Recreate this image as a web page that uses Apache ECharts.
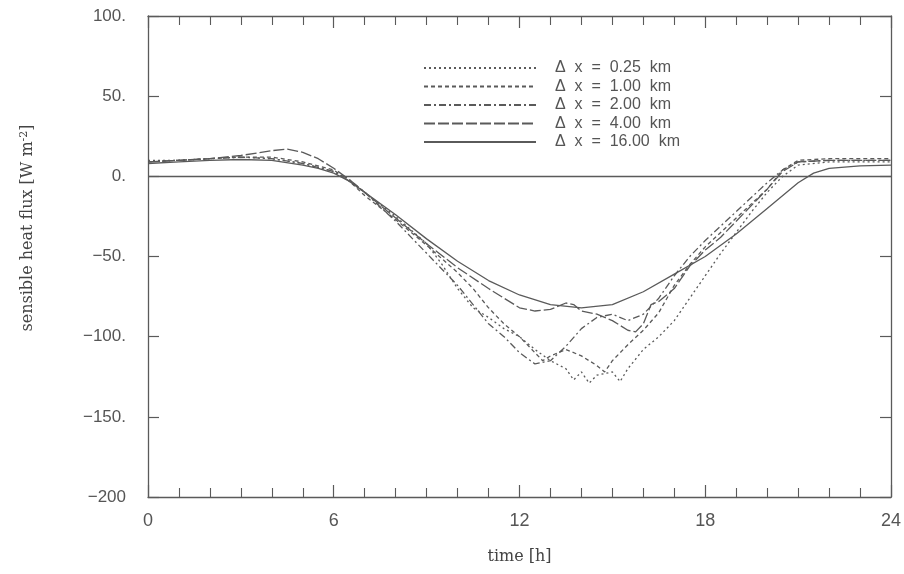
<!DOCTYPE html>
<html><head><meta charset="utf-8">
<script src="https://cdn.jsdelivr.net/npm/echarts@6/dist/echarts.min.js"></script>
<style>html,body{margin:0;padding:0;background:#fff}#c{width:904px;height:574px}</style>
</head><body><div id="c"></div>
<script>
// Data (time in hours, sensible heat flux in W m^-2)
const seriesNames = ['Δ  x  =  0.25  km','Δ  x  =  1.00  km','Δ  x  =  2.00  km','Δ  x  =  4.00  km','Δ  x  =  16.00  km'];
const xTicks = [0, 6, 12, 18, 24];
const yTicks = [100, 50, 0, -50, -100, -150, -200];

const dx025 = [[0,10],[1,10],[2,11],[3,12],[4,11],[5,8],[6,3],[6.5,-3],[7,-10],[8,-25],[9,-42],[9.5,-55],[10,-70],[10.5,-82],[11,-88],[11.5,-95],[12,-100],[12.5,-108],[13,-115],[13.5,-120],[13.75,-127],[14,-122],[14.25,-129],[14.5,-124],[15,-122],[15.25,-128],[15.5,-120],[16,-108],[16.5,-100],[17,-90],[17.5,-76],[18,-62],[18.5,-48],[19,-35],[19.5,-22],[20,-10],[20.5,0],[21,7],[22,9],[23,9],[24,9]];
const dx100 = [[0,9],[1,10],[2,11],[3,12],[4,12],[5,9],[6,4],[6.5,-3],[7,-12],[8,-27],[9,-43],[10,-60],[10.5,-70],[11,-82],[11.5,-92],[12,-100],[12.5,-110],[12.75,-115],[13,-112],[13.5,-108],[14,-112],[14.5,-118],[14.75,-122],[15,-115],[15.5,-105],[16,-96],[16.5,-85],[17,-68],[17.5,-55],[18,-44],[19,-26],[20,-8],[20.5,4],[21,10],[22,11],[23,11],[24,11]];
const dx200 = [[0,9],[1,10],[2,11],[3,12],[4,11],[5,8],[6,3],[6.5,-2],[7,-10],[8,-28],[9,-48],[10,-68],[10.5,-80],[11,-92],[11.5,-100],[12,-110],[12.5,-117],[13,-115],[13.5,-106],[14,-95],[14.5,-88],[15,-86],[15.5,-90],[16,-86],[16.5,-76],[17,-62],[17.5,-50],[18,-40],[19,-22],[20,-4],[20.5,4],[21,9],[22,10],[23,10],[24,10]];
const dx400 = [[0,9],[1,10],[2,11],[3,13],[4,16],[4.5,17],[5,15],[5.5,11],[6,5],[6.5,-2],[7,-10],[8,-26],[9,-42],[10,-57],[11,-70],[11.5,-76],[12,-82],[12.5,-84],[13,-83],[13.5,-79],[13.75,-80],[14,-84],[14.5,-86],[15,-90],[15.5,-96],[15.75,-97],[16,-92],[16.25,-80],[16.5,-78],[17,-70],[17.5,-56],[18,-46],[18.5,-38],[19,-28],[20,-8],[20.5,3],[21,9],[22,10],[23,10],[24,10]];
const dx1600 = [[0,8],[1,9],[2,10],[3,10.5],[4,10],[5,7],[5.5,5],[6,2],[6.5,-3],[7,-10],[8,-24],[9,-39],[10,-53],[11,-65],[12,-74],[13,-80],[14,-82],[15,-80],[16,-72],[17,-61],[18,-50],[19,-36],[20,-20],[21,-4],[21.5,2],[22,5],[23,6.5],[24,7]];
const zeroLine = 0;

const seriesData = [dx025, dx100, dx200, dx400, dx1600];
const dashTypes = [[2,3],[4,3],[7,3,2,3],[11,3],'solid'];
const lineColor = '#5a5a5a';
const textColor = '#555';

const chart = echarts.init(document.getElementById('c'));
const fmtY = v => (v === -200 ? '\u2212200' : (v < 0 ? '\u2212' + (-v) + '.' : v + '.'));
const axisLine = {show:true,onZero:false,lineStyle:{color:lineColor,width:1.3}};
const series = seriesData.map((d,i)=>({
  name: seriesNames[i], type:'line', data:d, symbol:'none', smooth:false,
  xAxisIndex:0, yAxisIndex:0,
  lineStyle:{color:lineColor,width:1.3,type:dashTypes[i]},
  itemStyle:{color:lineColor},
  z: 3
}));
series[4].markLine = {silent:true, symbol:'none', label:{show:false},
  lineStyle:{color:lineColor,width:1.3,type:'solid'}, data:[{yAxis:zeroLine}]};

chart.setOption({
  animation:false,
  backgroundColor:'#fff',
  grid:{left:148,right:9,top:16,bottom:77},
  legend:{
    show:true,
    orient:'vertical', left:418, top:55, itemWidth:112, itemHeight:12, itemGap:2.5,
    itemStyle:{color:'rgba(0,0,0,0)',borderWidth:0,opacity:0},
    textStyle:{color:textColor,fontSize:16,fontFamily:'Liberation Sans, Arial, sans-serif',padding:[0,0,0,14]},
    data: seriesNames
  },
  xAxis:[
    {type:'value',min:0,max:24,interval:6,position:'bottom',
      axisLine:axisLine, splitLine:{show:false},
      axisTick:{show:true,inside:true,length:12,lineStyle:{color:lineColor,width:1.2}},
      minorTick:{show:true,splitNumber:6,length:9,lineStyle:{color:lineColor,width:1.1}},
      axisLabel:{show:true,inside:false,margin:15,color:textColor,fontSize:18,fontFamily:'Liberation Sans, Arial, sans-serif',
        formatter:v=>xTicks.includes(v)?String(v):''},
      name:'time [h]', nameLocation:'middle', nameGap:52,
      nameTextStyle:{color:'#444',fontSize:16,fontFamily:'DejaVu Serif, Liberation Serif, serif'}
    },
    {type:'value',min:0,max:24,interval:6,position:'top',
      axisLine:axisLine, splitLine:{show:false},
      axisTick:{show:true,inside:true,length:12,lineStyle:{color:lineColor,width:1.2}},
      minorTick:{show:true,splitNumber:6,length:9,lineStyle:{color:lineColor,width:1.1}},
      axisLabel:{show:false}}
  ],
  yAxis:[
    {type:'value',min:-200,max:100,interval:50,position:'left',
      axisLine:axisLine, splitLine:{show:false},
      axisTick:{show:true,inside:true,length:11,lineStyle:{color:lineColor,width:1.2}},
      axisLabel:{show:true,inside:false,margin:22,color:textColor,fontSize:17,fontFamily:'Liberation Sans, Arial, sans-serif',
        formatter:v=>yTicks.includes(v)?fmtY(v):''}
    },
    {type:'value',min:-200,max:100,interval:50,position:'right',
      axisLine:axisLine, splitLine:{show:false},
      axisTick:{show:true,inside:true,length:11,lineStyle:{color:lineColor,width:1.2}},
      axisLabel:{show:false}}
  ],
  graphic:[{
    type:'text', x:28, y:228, rotation:Math.PI/2,
    style:{
      text:'sensible heat flux [W m{sup|-2}]',
      rich:{sup:{fontSize:11,verticalAlign:'top',padding:[0,0,8,0],fontFamily:'DejaVu Serif, Liberation Serif, serif',fill:'#444'}},
      fontSize:16, fontFamily:'DejaVu Serif, Liberation Serif, serif', fill:'#444',
      align:'center', verticalAlign:'middle'
    }
  }],
  series: series
});
</script></body></html>
